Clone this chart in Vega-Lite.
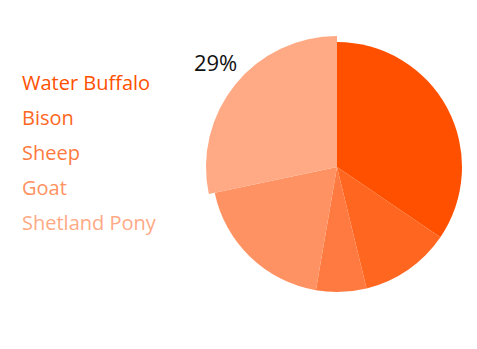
{
  "$schema": "https://vega.github.io/schema/vega-lite/v6.json",
  "width": 250,
  "height": 250,
  "padding": {"left": 212, "top": 42, "right": 15, "bottom": 57},
  "autosize": {"type": "none"},
  "background": "white",
  "config": {"view": {"stroke": null}},
  "data": {
    "values": [
      {"animal": "Water Buffalo", "value": 34.5, "order": 1, "label": "35%"},
      {"animal": "Bison", "value": 11.7, "order": 2, "label": "12%"},
      {"animal": "Sheep", "value": 6.5, "order": 3, "label": "6%"},
      {"animal": "Goat", "value": 19, "order": 4, "label": "19%"},
      {"animal": "Shetland Pony", "value": 28.3, "order": 5, "label": "29%"}
    ]
  },
  "encoding": {
    "theta": {"field": "value", "type": "quantitative", "stack": true},
    "order": {"field": "order", "type": "quantitative"},
    "color": {
      "field": "animal",
      "type": "nominal",
      "scale": {
        "domain": ["Water Buffalo", "Bison", "Sheep", "Goat", "Shetland Pony"],
        "range": ["#ff5000", "#ff6620", "#ff7a40", "#ff9262", "#ffaa85"]
      },
      "legend": {
        "orient": "none",
        "legendX": -210,
        "legendY": 32,
        "title": null,
        "symbolSize": 0,
        "symbolStrokeWidth": 0,
        "symbolOpacity": 0,
        "labelOffset": 0,
        "labelFontSize": 20,
        "labelFont": "Open Sans",
        "rowPadding": 15,
        "encode": {
          "labels": {"update": {"fill": {"scale": "color", "field": "value"}}}
        }
      }
    }
  },
  "layer": [
    {
      "mark": {"type": "arc", "outerRadius": 125},
      "encoding": {
        "opacity": {"condition": {"test": "datum.animal === 'Shetland Pony'", "value": 0}, "value": 1}
      }
    },
    {
      "mark": {"type": "arc", "outerRadius": 131},
      "encoding": {
        "opacity": {"condition": {"test": "datum.animal === 'Shetland Pony'", "value": 1}, "value": 0}
      }
    },
    {
      "mark": {"type": "text", "radius": 159, "thetaOffset": 0.02, "fontSize": 22, "font": "Open Sans", "color": "#111111"},
      "encoding": {
        "text": {"field": "label"},
        "color": {"value": "#111111"},
        "opacity": {"condition": {"test": "datum.animal === 'Shetland Pony'", "value": 1}, "value": 0}
      }
    }
  ]
}
